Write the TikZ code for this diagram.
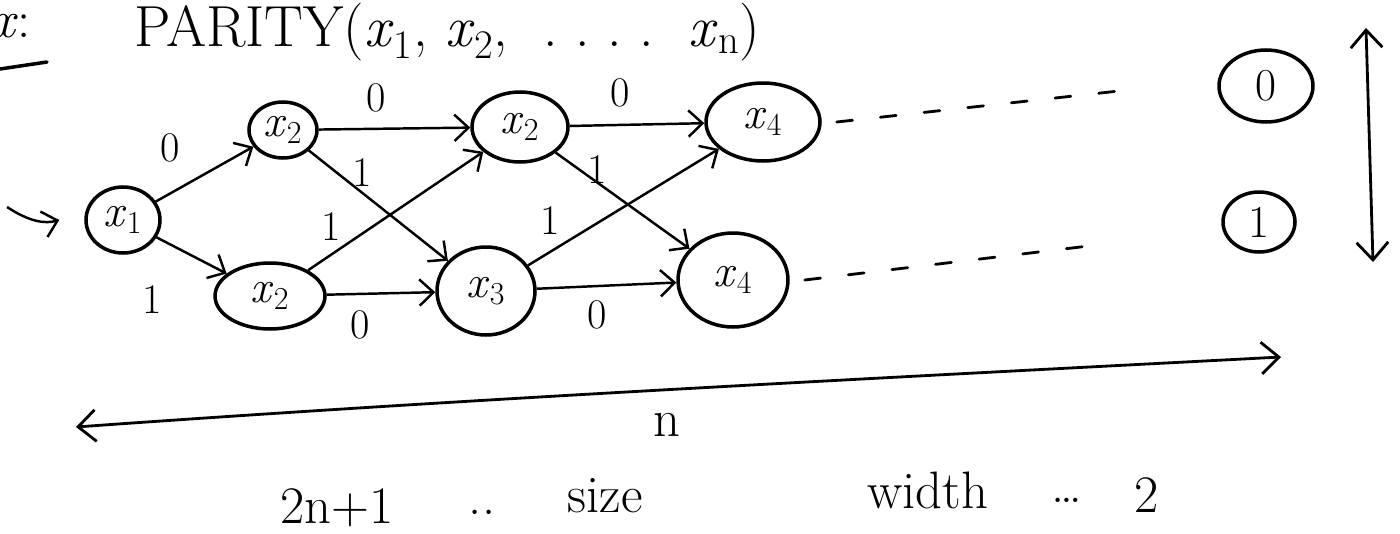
\documentclass[tikz,border=0pt]{standalone}
\usetikzlibrary{arrows.meta,shapes.geometric}
\newcommand{\xsub}[1]{\textit{x}\textsubscript{#1}}
\begin{document}
\begin{tikzpicture}[x=0.02cm,y=-0.02cm,
 st/.style={draw,ellipse,line width=2pt,inner sep=0pt,font=\fontsize{26}{30}\selectfont},
 ar/.style={line width=1.4pt,-{Straight Barb[length=8pt,width=15pt,line width=1.4pt]}},
 lbl/.style={inner sep=0pt,font=\fontsize{24}{28}\selectfont},
 dsh/.style={line width=1.6pt,dash pattern=on 9pt off 16pt,line cap=round},
 txt/.style={inner sep=0pt,font=\fontsize{30}{36}\selectfont},
 dbl/.style={line width=1.6pt,{Straight Barb[length=10pt,width=18pt,line width=1.6pt]}-{Straight Barb[length=10pt,width=18pt,line width=1.6pt]}}
]
\useasboundingbox (0,0) rectangle (1400,534);

% heading
\node[txt,anchor=west] (ex) at (-9,26) {\textit{x}:};
\draw[line width=2pt,line cap=round] (0,69) -- (47,62);
\node[anchor=west,inner sep=0pt,font=\fontsize{33}{38}\selectfont] (title) at (134,32) {PARITY(\xsub{1}, \xsub{2}, \ .\ .\ .\ .\ \ \xsub{n})};

% nodes
\node[st,minimum width=1.48cm,minimum height=1.32cm] (x1) at (123,220) {\xsub{1}};
\node[st,minimum width=1.36cm,minimum height=1.12cm] (xa) at (283,130) {\xsub{2}};
\node[st,minimum width=2.2cm,minimum height=1.32cm] (xb) at (270,296) {\xsub{2}};
\node[st,minimum width=1.92cm,minimum height=1.4cm] (xc) at (520,127) {\xsub{2}};
\node[st,minimum width=1.96cm,minimum height=1.76cm] (xd) at (486,291) {\xsub{3}};
\node[st,minimum width=2.28cm,minimum height=1.56cm] (xe) at (763,122) {\xsub{4}};
\node[st,minimum width=2.2cm,minimum height=1.88cm] (xf) at (733,280) {\xsub{4}};
\node[st,minimum width=1.88cm,minimum height=1.44cm] (t0) at (1266,86) {0};
\node[st,minimum width=1.44cm,minimum height=1.2cm] (t1) at (1259,222) {1};

% start arrow
\coordinate (s) at (7,207);
\draw[ar] (s) .. controls (30,222) and (45,224) .. ([xshift=-0.5cm]x1.west);

% edges
\draw[ar] (x1) -- (xa);
\draw[ar] (x1) -- (xb);
\draw[ar] (xa) -- (xc);
\draw[ar] (xa) -- (xd);
\draw[ar] (xb) -- (xc);
\draw[ar] (xb) -- (xd);
\draw[ar] (xc) -- (xe);
\draw[ar] (xc) -- (xf);
\draw[ar] (xd) -- (xe);
\draw[ar] (xd) -- (xf);

% edge labels
\node[lbl] (l1) at (170,148) {0};
\node[lbl] (l2) at (152,300) {1};
\node[lbl] (l3) at (376,98) {0};
\node[lbl] (l4) at (362,173) {1};
\node[lbl] (l5) at (331,227) {1};
\node[lbl] (l6) at (360,325) {0};
\node[lbl] (l7) at (620,93) {0};
\node[lbl] (l8) at (597,170) {1};
\node[lbl] (l9) at (550,221) {1};
\node[lbl] (l10) at (597,315) {0};

% dashed continuations
\coordinate (de) at (1128,90);
\coordinate (df) at (1097,245);
\draw[dsh] ([xshift=0.3cm]xe.east) -- (de);
\draw[dsh] ([xshift=0.3cm]xf.east) -- (df);

% vertical width arrow
\coordinate (vt) at (1366,28);
\coordinate (vb) at (1373,262);
\draw[dbl] (vt) -- (vb);

% horizontal length arrow
\coordinate (hl) at (76,427);
\coordinate (hr) at (1281,357);
\draw[dbl] (hl) .. controls (480,398) and (880,378) .. (hr);
\node[txt] (n) at (667,425) {n};

% bottom text
\node[txt] (sz) at (337,508) {2n+1};
\node[txt] (d1) at (482,512) {..};
\node[txt] (szw) at (605,496) {size};
\node[txt] (wd) at (928,490) {width};
\node[txt] (d2) at (1067,500) {\ldots};
\node[txt] (two) at (1147,495) {2};
\end{tikzpicture}
\end{document}
